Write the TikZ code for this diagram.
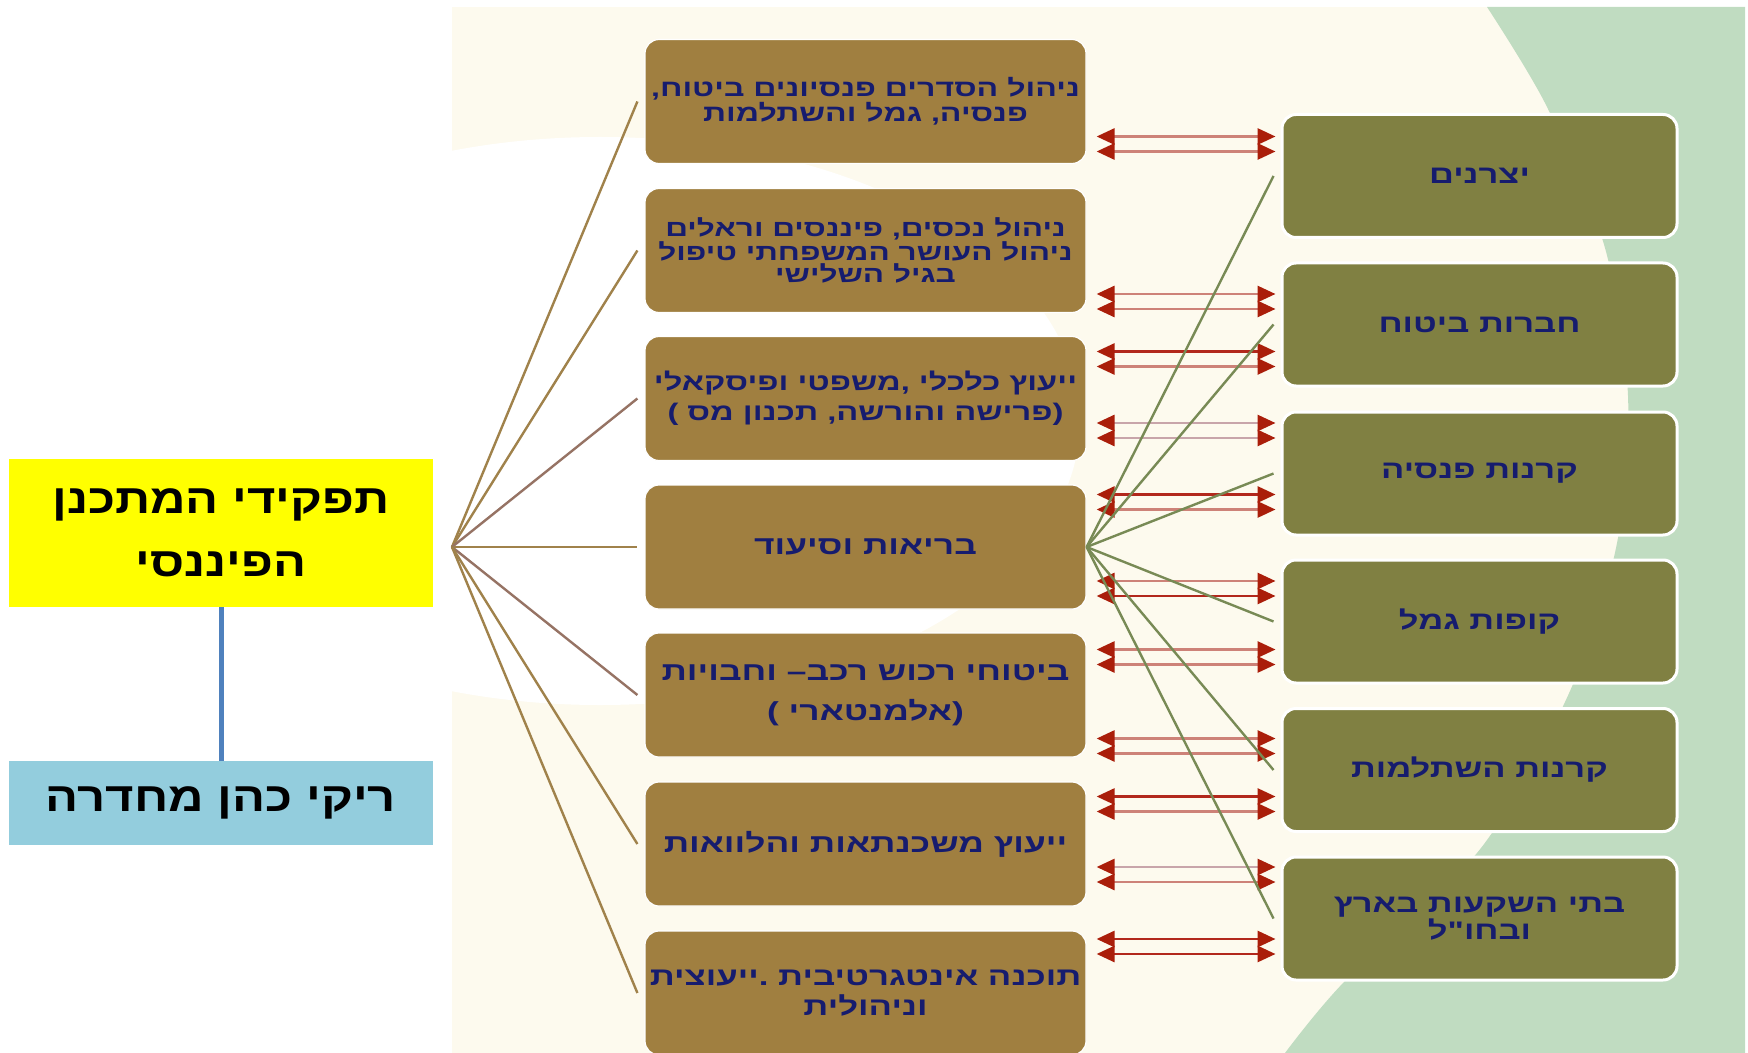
\documentclass[tikz,border=0pt]{standalone}
\usepackage{fontspec}
\usetikzlibrary{arrows.meta}
\TeXXeTstate=1
\newfontfamily\hebbig[Script=Hebrew,FakeStretch=1.2]{Liberation Sans}
\newfontfamily\hebbox[Script=Hebrew,FakeStretch=1.36]{Liberation Sans}
\newcommand\rtl[1]{\beginR #1\endR}
\newcommand\boxfont[2]{\hebbox\bfseries\fontsize{#1pt}{#2pt}\selectfont}
\definecolor{cream}{RGB}{253,250,238}
\definecolor{greenbg}{RGB}{192,220,193}
\definecolor{rolebrown}{RGB}{160,127,64}
\definecolor{instolive}{RGB}{128,128,66}
\definecolor{navy}{RGB}{22,28,110}
\definecolor{titleyellow}{RGB}{255,255,0}
\definecolor{authorblue}{RGB}{147,205,221}
\definecolor{steel}{RGB}{79,129,189}
\definecolor{fanbrown}{RGB}{160,130,75}
\definecolor{fanmauve}{RGB}{150,115,100}
\definecolor{fanolive}{RGB}{120,138,85}
\definecolor{tipred}{RGB}{170,30,10}
\definecolor{redline}{RGB}{178,40,28}
\definecolor{roseline}{RGB}{205,130,120}
\definecolor{lavline}{RGB}{200,165,170}
% one pair of two-way arrows at height #1
\newcommand\duo[3]{%
  \draw[dbl,#2] (lx |- 0,#1-7.5) -- (rx |- 0,#1-7.5);
  \draw[dbl,#3] (lx |- 0,#1+7.5) -- (rx |- 0,#1+7.5);}

\begin{document}
\begin{tikzpicture}[x=0.5pt,y=-0.5pt,
  role/.style={rectangle,rounded corners=7pt,fill=rolebrown,draw=white,line width=0.6pt,
    minimum width=220.5pt,minimum height=62pt,inner sep=0pt,align=center,text=navy,
    font=\boxfont{13}{15}},
  inst/.style={rectangle,rounded corners=7pt,fill=instolive,draw=white,line width=1.5pt,
    minimum width=197.5pt,minimum height=61.5pt,inner sep=0pt,align=center,text=navy,
    font=\boxfont{12.7}{12.5}},
  head/.style={rectangle,minimum width=212pt,inner sep=0pt,align=center,text=black,
    font=\hebbig\bfseries\fontsize{20.4pt}{31.5pt}\selectfont},
  fanL/.style={fanbrown,line width=1.2pt},
  fanR/.style={fanolive,line width=1.2pt},
  dbl/.style={line width=1.4pt,
    {Triangle[length=9pt,width=8pt,color=tipred]}-{Triangle[length=9pt,width=8pt,color=tipred]}}]
  \useasboundingbox (0,0) rectangle (1748,1053);

  % background panel
  \fill[cream] (452,7) rectangle (1745,1053);
  \begin{scope}
    \clip (452,7) rectangle (1745,1053);
    \fill[white] (600,421) ellipse [x radius=240pt,y radius=142pt];
  \end{scope}
  \fill[greenbg] plot[smooth] coordinates {(1487,7) (1547,107) (1605,248) (1628,396)
    (1617,543) (1570,691) (1481,848) (1343,983) (1285,1053)} -- (1745,1053) -- (1745,7) -- cycle;

  % left side
  \node[head,fill=titleyellow,minimum height=74pt] (title) at (221,533)
    {\rtl{תפקידי המתכנן}\\\rtl{הפיננסי}};
  \node[head,fill=authorblue,minimum height=42pt] (author) at (221,803)
    {\rtl{ריקי כהן מחדרה}};
  \draw[steel,line width=2.5pt] (title.south) -- (author.north);
  \coordinate (hub) at (452,547);

  % roles
  \node[role,font=\boxfont{11.8}{12.5}] (role1) at (865.5,101.5)
    {\rtl{ניהול הסדרים פנסיונים ביטוח,}\\\rtl{פנסיה, גמל והשתלמות}};
  \node[role,font=\boxfont{11.6}{11}] (role2) at (865.5,250.5)
    {\rtl{ניהול נכסים, פיננסים וראלים}\\\rtl{ניהול העושר המשפחתי טיפול}\\\rtl{בגיל  השלישי}};
  \node[role,font=\boxfont{12}{15}] (role3) at (865.5,398.5)
    {\rtl{ייעוץ כלכלי ,משפטי  ופיסקאלי}\\\rtl{(פרישה והורשה, תכנון מס )}};
  \node[role] (role4) at (865.5,547) {\rtl{בריאות וסיעוד}};
  \node[role,font=\boxfont{13}{20}] (role5) at (865.5,695)
    {\rtl{ביטוחי רכוש רכב– וחבויות}\\\rtl{(אלמנטארי )}};
  \node[role] (role6) at (865.5,844) {\rtl{ייעוץ משכנתאות והלוואות}};
  \node[role,font=\boxfont{12.8}{15}] (role7) at (865.5,993)
    {\rtl{תוכנה אינטגרטיבית .ייעוצית}\\\rtl{וניהולית}};

  % fan to the roles
  \draw[fanL] (hub) -- ([xshift=-3.5pt]role1.west);
  \draw[fanL] (hub) -- ([xshift=-3.5pt]role2.west);
  \draw[fanL,fanmauve] (hub) -- ([xshift=-3.5pt]role3.west);
  \draw[fanL] (hub) -- ([xshift=-3.5pt]role4.west);
  \draw[fanL,fanmauve] (hub) -- ([xshift=-3.5pt]role5.west);
  \draw[fanL] (hub) -- ([xshift=-3.5pt]role6.west);
  \draw[fanL] (hub) -- ([xshift=-3.5pt]role7.west);

  % institutions
  \node[inst] (inst1) at (1479.5,176) {\rtl{יצרנים}};
  \node[inst] (inst2) at (1479.5,324.5) {\rtl{חברות ביטוח}};
  \node[inst] (inst3) at (1479.5,473.5) {\rtl{קרנות פנסיה}};
  \node[inst] (inst4) at (1479.5,621.5) {\rtl{קופות גמל}};
  \node[inst] (inst5) at (1479.5,770) {\rtl{קרנות השתלמות}};
  \node[inst] (inst6) at (1479.5,918.5) {\rtl{בתי השקעות בארץ}\\\rtl{ובחו"ל}};

  % two-way arrows
  \coordinate (lx) at ([xshift=5pt]role1.east);
  \coordinate (rx) at ([xshift=-2.5pt]inst1.west);
  \duo{144}{roseline}{roseline}
  \duo{301.5}{roseline}{roseline}
  \duo{359}{redline}{roseline}
  \duo{430.5}{lavline}{lavline}
  \duo{502}{redline}{roseline}
  \duo{588.5}{roseline}{redline}
  \duo{657}{roseline}{roseline}
  \duo{746}{roseline}{roseline}
  \duo{804}{redline}{roseline}
  \duo{874.5}{lavline}{roseline}
  \duo{946.5}{redline}{redline}

  % fan to the institutions
  \draw[fanR] (role4.east) -- ([xshift=-3.5pt]inst1.west);
  \draw[fanR] (role4.east) -- ([xshift=-3.5pt]inst2.west);
  \draw[fanR] (role4.east) -- ([xshift=-3.5pt]inst3.west);
  \draw[fanR] (role4.east) -- ([xshift=-3.5pt]inst4.west);
  \draw[fanR] (role4.east) -- ([xshift=-3.5pt]inst5.west);
  \draw[fanR] (role4.east) -- ([xshift=-3.5pt]inst6.west);
\end{tikzpicture}
\end{document}
